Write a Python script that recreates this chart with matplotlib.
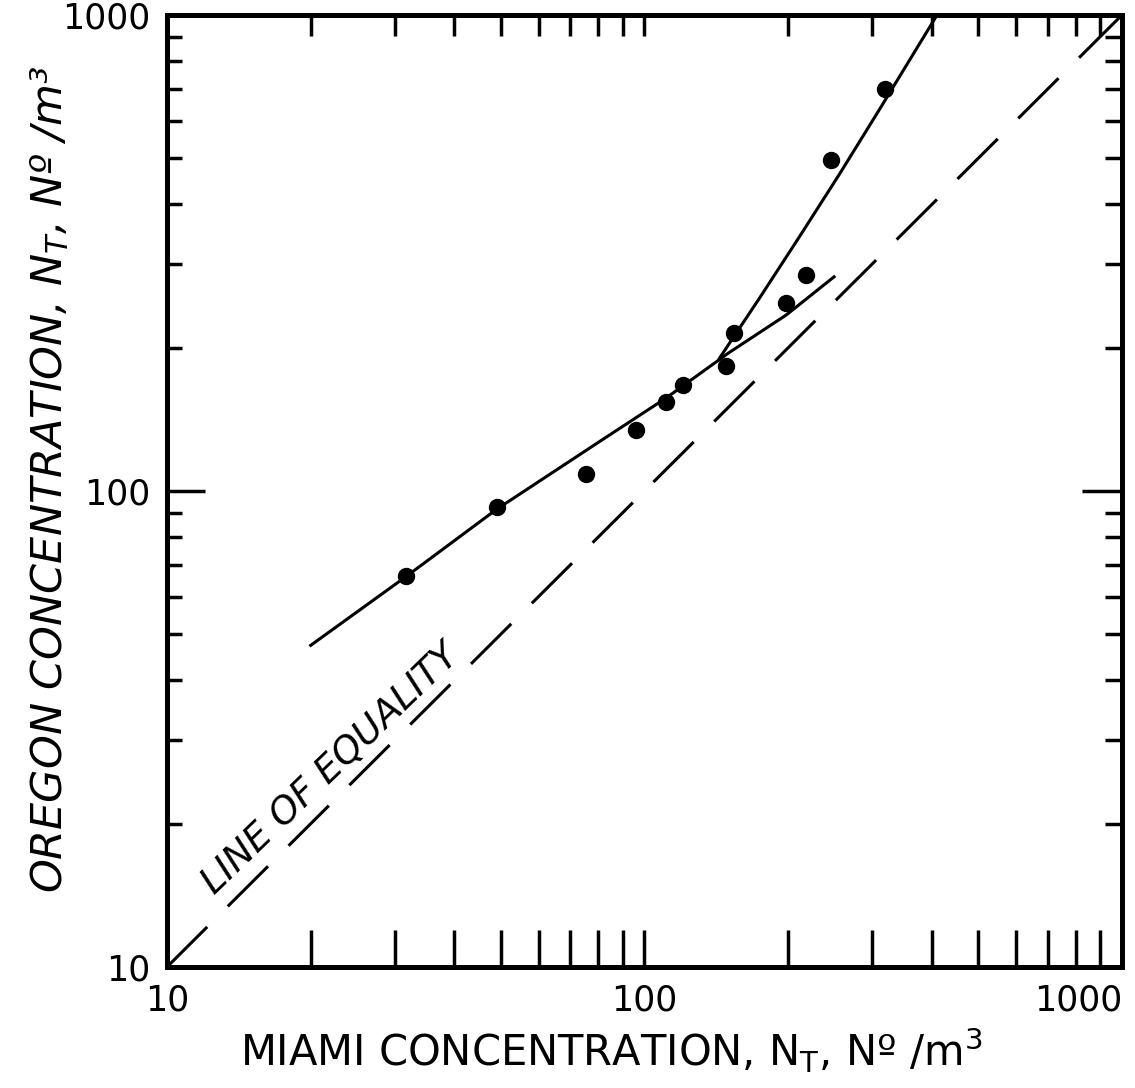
import matplotlib
matplotlib.use("Agg")
import matplotlib.pyplot as plt
from matplotlib.ticker import FuncFormatter, NullFormatter, LogLocator

# measured points (Miami vs Oregon total concentration)
miami = [31.6, 49.0, 75.6, 96.2, 111.2, 120.7, 148.4, 154.3, 198.2, 218.3, 246.2, 319.4]
oregon = [66.3, 92.5, 108.6, 134.4, 153.8, 167.0, 183.1, 214.7, 248.3, 284.3, 495.8, 699.5]

# hand drawn curves
low_x = [20, 31.6, 49.0, 80.5, 111.2, 150, 198.2, 249.5]
low_y = [47.4, 66.0, 91.5, 127.0, 157.0, 195.0, 234.4, 281.8]
up_x = [143.6, 174.0, 210.9, 255.9, 310.1, 410]
up_y = [190.1, 253.9, 341.5, 462.6, 631.6, 1000]
eq = [10, 1000]
ticks = [10, 100, 1000]

fig = plt.figure(figsize=(11.35, 10.88), dpi=100)
ax = fig.add_axes([0.1471, 0.1112, 0.9885 - 0.1471, 0.9862 - 0.1112])
ax.set_xscale("log")
ax.set_yscale("log")
ax.set_xlim(10, 1000)
ax.set_ylim(10, 1000)

ax.plot(eq, eq, color="black", lw=2.2, dashes=(18.6, 9.5))
ax.plot(low_x, low_y, color="black", lw=2.2)
ax.plot(up_x, up_y, color="black", lw=2.2)
ax.plot(miami, oregon, "o", color="black", ms=11.5, zorder=5)

ax.text(22, 26, "LINE OF EQUALITY", rotation=44, rotation_mode="anchor",
        ha="center", va="center", fontsize=27, style="italic")

for s in ax.spines.values():
    s.set_linewidth(3.6)

fmt = FuncFormatter(lambda v, _: f"{v:g}")
ax.set_xticks(ticks)
ax.set_yticks(ticks)
ax.xaxis.set_major_formatter(fmt)
ax.yaxis.set_major_formatter(fmt)
ax.xaxis.set_minor_locator(LogLocator(subs=range(2, 10)))
ax.yaxis.set_minor_locator(LogLocator(subs=range(2, 10)))
ax.xaxis.set_minor_formatter(NullFormatter())
ax.yaxis.set_minor_formatter(NullFormatter())
ax.tick_params(axis="both", which="both", direction="in", width=2.5,
               labelsize=25, top=False, right=False)
ax.tick_params(axis="x", which="both", length=27, pad=12)
ax.tick_params(axis="y", which="major", length=27, pad=12)
ax.tick_params(axis="y", which="minor", length=11)

# top and right ticks are shorter than the bottom ones
top = ax.secondary_xaxis("top")
top.xaxis.set_minor_locator(LogLocator(subs=range(2, 10)))
top.tick_params(which="both", direction="in", length=15, width=2.5,
                labeltop=False)
top.xaxis.set_major_formatter(NullFormatter())
top.xaxis.set_minor_formatter(NullFormatter())
right = ax.secondary_yaxis("right")
right.yaxis.set_minor_locator(LogLocator(subs=range(2, 10)))
right.tick_params(which="major", direction="in", length=29, width=2.5)
right.tick_params(which="minor", direction="in", length=12, width=2.5)
right.yaxis.set_major_formatter(NullFormatter())
right.yaxis.set_minor_formatter(NullFormatter())
for sec in (top, right):
    for s in sec.spines.values():
        s.set_linewidth(3.6)

ax.set_xlabel("MIAMI CONCENTRATION, N$_\\mathregular{T}$, Nº /m$^\\mathregular{3}$",
              fontsize=30)
ax.xaxis.set_label_coords(0.465, -0.062)
ax.set_ylabel("OREGON CONCENTRATION, N$_{T}$, Nº /m³", fontsize=31,
              style="italic")
ax.yaxis.set_label_coords(-0.100, 0.512)

ax.get_xticklabels()[-1].set_horizontalalignment("right")

fig.savefig("out.png", dpi=100)
